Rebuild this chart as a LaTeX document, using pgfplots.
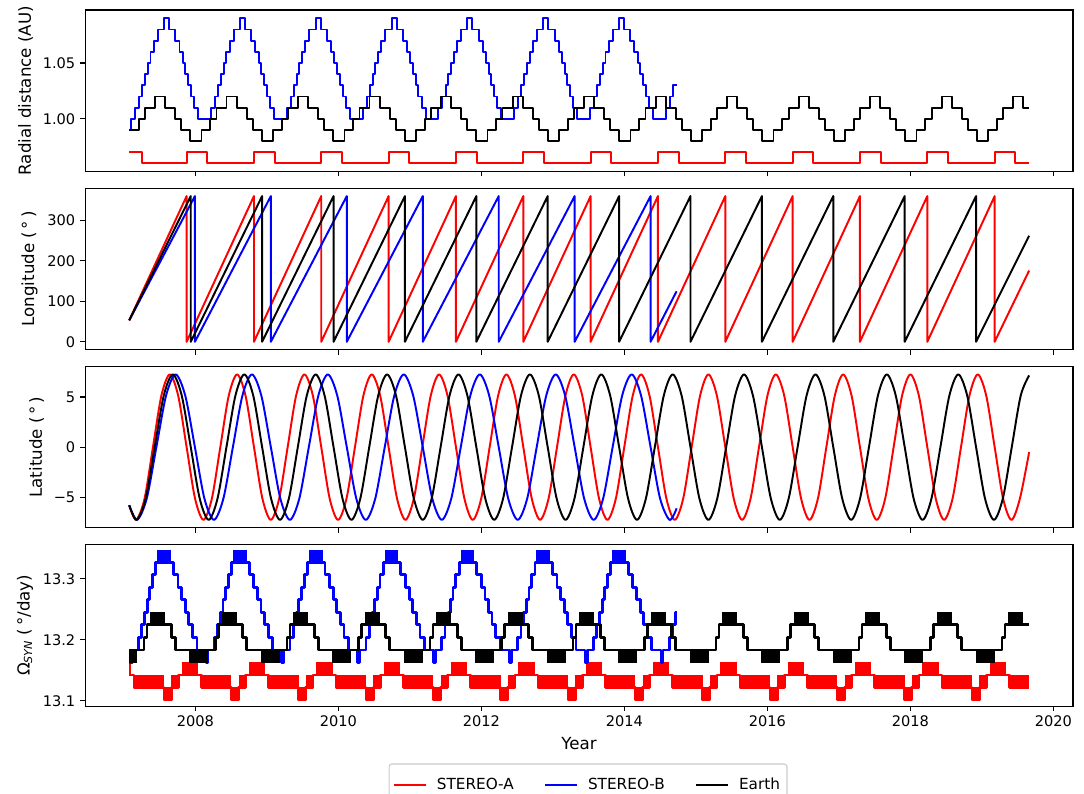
\documentclass[border=0pt]{standalone}
\usepackage{fontspec}
\setmainfont{DejaVu Sans}
\usepackage{pgfplots}
\pgfplotsset{compat=1.18}
\begin{document}
\begin{tikzpicture}
\useasboundingbox (0,0) rectangle (780.48pt,-571.68pt);
\pgfplotsset{
  base/.style={
    scale only axis, width=711.1pt, height=116.28pt,
    xmin=2006.46, xmax=2020.273,
    xtick={2008,2010,2012,2014,2016,2018,2020},
    tick align=outside, tick pos=left,
    major tick length=3.5pt,
    every tick/.append style={black, line width=0.8pt},
    line width=0.8pt,
    tick label style={font=\fontsize{10.5}{12.5}\selectfont},
    label style={font=\fontsize{12}{14}\selectfont},
    anchor=north west,
  },
  ln/.style={line width=1.4pt, mark=none, line join=round},
  lnw/.style={line width=2pt, mark=none, line join=round},
}
% ---------------- Panel 1: radial distance
\begin{axis}[base, at={(61.42pt,-7.2pt)}, ymin=0.9528, ymax=1.0975,
  ytick={1.00,1.05}, yticklabels={1.00,1.05}, xticklabels={},
  ylabel={Radial distance (AU)}]
\addplot[ln, red, const plot] coordinates {(2007.074,0.97)(2007.248,0.96)(2007.877,0.97)(2008.165,0.96)(2008.819,0.97)(2009.107,0.96)(2009.760,0.97)(2010.048,0.96)(2010.702,0.97)(2010.990,0.96)(2011.644,0.97)(2011.932,0.96)(2012.586,0.97)(2012.874,0.96)(2013.527,0.97)(2013.815,0.96)(2014.469,0.97)(2014.757,0.96)(2015.411,0.97)(2015.699,0.96)(2016.353,0.97)(2016.641,0.96)(2017.294,0.97)(2017.582,0.96)(2018.236,0.97)(2018.524,0.96)(2019.178,0.97)(2019.466,0.96)(2019.66,0.96)};
\addplot[ln, blue, const plot] coordinates {(2007.074,0.99)(2007.10,1.00)
(2007.157,1.01)(2007.213,1.02)(2007.257,1.03)(2007.297,1.04)(2007.334,1.05)(2007.372,1.06)(2007.417,1.07)(2007.473,1.08)(2007.562,1.09)(2007.632,1.08)(2007.721,1.07)(2007.777,1.06)(2007.822,1.05)(2007.860,1.04)(2007.897,1.03)(2007.937,1.02)(2007.981,1.01)(2008.037,1.00)
(2008.218,1.01)(2008.274,1.02)(2008.318,1.03)(2008.358,1.04)(2008.395,1.05)(2008.433,1.06)(2008.478,1.07)(2008.534,1.08)(2008.623,1.09)(2008.693,1.08)(2008.782,1.07)(2008.838,1.06)(2008.883,1.05)(2008.921,1.04)(2008.958,1.03)(2008.998,1.02)(2009.042,1.01)(2009.098,1.00)
(2009.278,1.01)(2009.334,1.02)(2009.378,1.03)(2009.418,1.04)(2009.455,1.05)(2009.493,1.06)(2009.538,1.07)(2009.594,1.08)(2009.683,1.09)(2009.753,1.08)(2009.842,1.07)(2009.898,1.06)(2009.943,1.05)(2009.981,1.04)(2010.018,1.03)(2010.058,1.02)(2010.102,1.01)(2010.158,1.00)
(2010.339,1.01)(2010.395,1.02)(2010.439,1.03)(2010.479,1.04)(2010.516,1.05)(2010.554,1.06)(2010.599,1.07)(2010.655,1.08)(2010.744,1.09)(2010.814,1.08)(2010.903,1.07)(2010.959,1.06)(2011.004,1.05)(2011.042,1.04)(2011.079,1.03)(2011.119,1.02)(2011.163,1.01)(2011.219,1.00)
(2011.399,1.01)(2011.455,1.02)(2011.499,1.03)(2011.539,1.04)(2011.576,1.05)(2011.614,1.06)(2011.659,1.07)(2011.715,1.08)(2011.804,1.09)(2011.874,1.08)(2011.963,1.07)(2012.019,1.06)(2012.064,1.05)(2012.102,1.04)(2012.139,1.03)(2012.179,1.02)(2012.223,1.01)(2012.279,1.00)
(2012.460,1.01)(2012.516,1.02)(2012.560,1.03)(2012.600,1.04)(2012.637,1.05)(2012.675,1.06)(2012.720,1.07)(2012.776,1.08)(2012.865,1.09)(2012.935,1.08)(2013.024,1.07)(2013.080,1.06)(2013.125,1.05)(2013.163,1.04)(2013.200,1.03)(2013.240,1.02)(2013.284,1.01)(2013.340,1.00)
(2013.520,1.01)(2013.576,1.02)(2013.620,1.03)(2013.660,1.04)(2013.697,1.05)(2013.735,1.06)(2013.780,1.07)(2013.836,1.08)(2013.925,1.09)(2013.995,1.08)(2014.084,1.07)(2014.140,1.06)(2014.185,1.05)(2014.223,1.04)(2014.260,1.03)(2014.300,1.02)(2014.344,1.01)(2014.400,1.00)
(2014.581,1.01)(2014.637,1.02)(2014.681,1.03)(2014.73,1.03)};
\addplot[ln, black, const plot] coordinates {(2007.074,0.99)(2007.21,1.00)(2007.295,1.01)(2007.435,1.02)(2007.575,1.01)(2007.715,1.00)(2007.80,0.99)(2007.925,0.98)
(2008.085,0.99)(2008.21,1.00)(2008.295,1.01)(2008.435,1.02)(2008.575,1.01)(2008.715,1.00)(2008.80,0.99)(2008.925,0.98)
(2009.085,0.99)(2009.21,1.00)(2009.295,1.01)(2009.435,1.02)(2009.575,1.01)(2009.715,1.00)(2009.80,0.99)(2009.925,0.98)
(2010.085,0.99)(2010.21,1.00)(2010.295,1.01)(2010.435,1.02)(2010.575,1.01)(2010.715,1.00)(2010.80,0.99)(2010.925,0.98)
(2011.085,0.99)(2011.21,1.00)(2011.295,1.01)(2011.435,1.02)(2011.575,1.01)(2011.715,1.00)(2011.80,0.99)(2011.925,0.98)
(2012.085,0.99)(2012.21,1.00)(2012.295,1.01)(2012.435,1.02)(2012.575,1.01)(2012.715,1.00)(2012.80,0.99)(2012.925,0.98)
(2013.085,0.99)(2013.21,1.00)(2013.295,1.01)(2013.435,1.02)(2013.575,1.01)(2013.715,1.00)(2013.80,0.99)(2013.925,0.98)
(2014.085,0.99)(2014.21,1.00)(2014.295,1.01)(2014.435,1.02)(2014.575,1.01)(2014.715,1.00)(2014.80,0.99)(2014.925,0.98)
(2015.085,0.99)(2015.21,1.00)(2015.295,1.01)(2015.435,1.02)(2015.575,1.01)(2015.715,1.00)(2015.80,0.99)(2015.925,0.98)
(2016.085,0.99)(2016.21,1.00)(2016.295,1.01)(2016.435,1.02)(2016.575,1.01)(2016.715,1.00)(2016.80,0.99)(2016.925,0.98)
(2017.085,0.99)(2017.21,1.00)(2017.295,1.01)(2017.435,1.02)(2017.575,1.01)(2017.715,1.00)(2017.80,0.99)(2017.925,0.98)
(2018.085,0.99)(2018.21,1.00)(2018.295,1.01)(2018.435,1.02)(2018.575,1.01)(2018.715,1.00)(2018.80,0.99)(2018.925,0.98)
(2019.085,0.99)(2019.21,1.00)(2019.295,1.01)(2019.435,1.02)(2019.575,1.01)(2019.66,1.01)};
\end{axis}
% ---------------- Panel 2: longitude
\begin{axis}[base, at={(61.42pt,-135.5pt)}, ymin=-19.5, ymax=379.5,
  ytick={0,100,200,300}, yticklabels={0,100,200,300}, xticklabels={},
  ylabel={Longitude (\,°\,)}]
\addplot[ln, red] coordinates {(2007.074,53)(2007.877,360)(2007.877,0)(2008.819,360)(2008.819,0)(2009.760,360)(2009.760,0)(2010.702,360)(2010.702,0)(2011.644,360)(2011.644,0)(2012.586,360)(2012.586,0)(2013.527,360)(2013.527,0)(2014.469,360)(2014.469,0)(2015.411,360)(2015.411,0)(2016.353,360)(2016.353,0)(2017.294,360)(2017.294,0)(2018.236,360)(2018.236,0)(2019.178,360)(2019.178,0)(2019.66,176)};
\addplot[ln, blue] coordinates {(2007.074,53)(2007.993,360)(2007.993,0)(2009.055,360)(2009.055,0)(2010.117,360)(2010.117,0)(2011.180,360)(2011.180,0)(2012.242,360)(2012.242,0)(2013.304,360)(2013.304,0)(2014.366,360)(2014.366,0)(2014.73,125)};
\addplot[ln, black] coordinates {(2007.074,53)(2007.935,360)(2007.935,0)(2008.933,360)(2008.933,0)(2009.932,360)(2009.932,0)(2010.930,360)(2010.930,0)(2011.929,360)(2011.929,0)(2012.927,360)(2012.927,0)(2013.926,360)(2013.926,0)(2014.924,360)(2014.924,0)(2015.923,360)(2015.923,0)(2016.921,360)(2016.921,0)(2017.920,360)(2017.920,0)(2018.918,360)(2018.918,0)(2019.66,262)};
\end{axis}
% ---------------- Panel 3: latitude
\begin{axis}[base, at={(61.42pt,-263.8pt)}, ymin=-8.05, ymax=8.05,
  ytick={-5,0,5}, yticklabels={−5,0,5}, xticklabels={},
  ylabel={Latitude (\,°\,)}]
\addplot[ln, red, smooth] coordinates {(2007.074,-5.79)(2007.171,-7.25)(2007.289,-5.127)(2007.406,0)(2007.524,5.127)(2007.642,7.25)(2007.759,5.127)
(2007.877,0)(2007.995,-5.127)(2008.112,-7.25)(2008.230,-5.127)(2008.348,0)(2008.466,5.127)(2008.583,7.25)(2008.701,5.127)
(2008.819,0)(2008.937,-5.127)(2009.054,-7.25)(2009.172,-5.127)(2009.290,0)(2009.408,5.127)(2009.525,7.25)(2009.643,5.127)
(2009.760,0)(2009.878,-5.127)(2009.995,-7.25)(2010.113,-5.127)(2010.231,0)(2010.349,5.127)(2010.466,7.25)(2010.584,5.127)
(2010.702,0)(2010.820,-5.127)(2010.937,-7.25)(2011.055,-5.127)(2011.173,0)(2011.291,5.127)(2011.408,7.25)(2011.526,5.127)
(2011.644,0)(2011.762,-5.127)(2011.879,-7.25)(2011.997,-5.127)(2012.115,0)(2012.233,5.127)(2012.350,7.25)(2012.468,5.127)
(2012.586,0)(2012.704,-5.127)(2012.821,-7.25)(2012.939,-5.127)(2013.057,0)(2013.175,5.127)(2013.292,7.25)(2013.410,5.127)
(2013.527,0)(2013.645,-5.127)(2013.762,-7.25)(2013.880,-5.127)(2013.998,0)(2014.116,5.127)(2014.233,7.25)(2014.351,5.127)
(2014.469,0)(2014.587,-5.127)(2014.704,-7.25)(2014.822,-5.127)(2014.940,0)(2015.058,5.127)(2015.175,7.25)(2015.293,5.127)
(2015.411,0)(2015.529,-5.127)(2015.646,-7.25)(2015.764,-5.127)(2015.882,0)(2016.000,5.127)(2016.117,7.25)(2016.235,5.127)
(2016.353,0)(2016.471,-5.127)(2016.588,-7.25)(2016.706,-5.127)(2016.824,0)(2016.942,5.127)(2017.059,7.25)(2017.177,5.127)
(2017.294,0)(2017.412,-5.127)(2017.529,-7.25)(2017.647,-5.127)(2017.765,0)(2017.883,5.127)(2018.000,7.25)(2018.118,5.127)
(2018.236,0)(2018.354,-5.127)(2018.471,-7.25)(2018.589,-5.127)(2018.707,0)(2018.825,5.127)(2018.942,7.25)(2019.060,5.127)
(2019.178,0)(2019.296,-5.127)(2019.413,-7.25)(2019.531,-5.127)(2019.66,-0.5)};
\addplot[ln, blue, smooth] coordinates {(2007.074,-5.79)(2007.185,-7.25)(2007.319,-5.127)(2007.454,0)(2007.589,5.127)(2007.723,7.25)(2007.858,5.127)
(2007.993,0)(2008.126,-5.127)(2008.259,-7.25)(2008.391,-5.127)(2008.524,0)(2008.657,5.127)(2008.790,7.25)(2008.922,5.127)
(2009.055,0)(2009.188,-5.127)(2009.321,-7.25)(2009.453,-5.127)(2009.586,0)(2009.719,5.127)(2009.852,7.25)(2009.984,5.127)
(2010.117,0)(2010.250,-5.127)(2010.383,-7.25)(2010.515,-5.127)(2010.648,0)(2010.781,5.127)(2010.914,7.25)(2011.046,5.127)
(2011.180,0)(2011.313,-5.127)(2011.446,-7.25)(2011.578,-5.127)(2011.711,0)(2011.844,5.127)(2011.977,7.25)(2012.109,5.127)
(2012.242,0)(2012.375,-5.127)(2012.508,-7.25)(2012.640,-5.127)(2012.773,0)(2012.906,5.127)(2013.039,7.25)(2013.171,5.127)
(2013.304,0)(2013.437,-5.127)(2013.570,-7.25)(2013.702,-5.127)(2013.835,0)(2013.968,5.127)(2014.101,7.25)(2014.233,5.127)
(2014.366,0)(2014.499,-5.127)(2014.632,-7.25)(2014.73,-6.1)};
\addplot[ln, black, smooth] coordinates {(2007.074,-5.79)(2007.178,-7.25)(2007.304,-5.127)(2007.430,0)(2007.557,5.127)(2007.683,7.25)(2007.809,5.127)
(2007.935,0)(2008.060,-5.127)(2008.185,-7.25)(2008.309,-5.127)(2008.434,0)(2008.559,5.127)(2008.684,7.25)(2008.809,5.127)
(2008.933,0)(2009.058,-5.127)(2009.183,-7.25)(2009.307,-5.127)(2009.432,0)(2009.557,5.127)(2009.682,7.25)(2009.807,5.127)
(2009.932,0)(2010.057,-5.127)(2010.182,-7.25)(2010.306,-5.127)(2010.431,0)(2010.556,5.127)(2010.681,7.25)(2010.806,5.127)
(2010.930,0)(2011.055,-5.127)(2011.180,-7.25)(2011.304,-5.127)(2011.429,0)(2011.554,5.127)(2011.679,7.25)(2011.804,5.127)
(2011.929,0)(2012.054,-5.127)(2012.179,-7.25)(2012.303,-5.127)(2012.428,0)(2012.553,5.127)(2012.678,7.25)(2012.803,5.127)
(2012.927,0)(2013.052,-5.127)(2013.177,-7.25)(2013.301,-5.127)(2013.426,0)(2013.551,5.127)(2013.676,7.25)(2013.801,5.127)
(2013.926,0)(2014.051,-5.127)(2014.176,-7.25)(2014.300,-5.127)(2014.425,0)(2014.550,5.127)(2014.675,7.25)(2014.800,5.127)
(2014.924,0)(2015.049,-5.127)(2015.174,-7.25)(2015.298,-5.127)(2015.423,0)(2015.548,5.127)(2015.673,7.25)(2015.798,5.127)
(2015.923,0)(2016.048,-5.127)(2016.173,-7.25)(2016.297,-5.127)(2016.422,0)(2016.547,5.127)(2016.672,7.25)(2016.797,5.127)
(2016.921,0)(2017.046,-5.127)(2017.171,-7.25)(2017.295,-5.127)(2017.420,0)(2017.545,5.127)(2017.670,7.25)(2017.795,5.127)
(2017.920,0)(2018.045,-5.127)(2018.170,-7.25)(2018.294,-5.127)(2018.419,0)(2018.544,5.127)(2018.669,7.25)(2018.794,5.127)
(2018.918,0)(2019.043,-5.127)(2019.168,-7.25)(2019.292,-5.127)(2019.417,0)(2019.542,5.127)(2019.66,7.15)};
\end{axis}
% ---------------- Panel 4: synodic rotation rate
\begin{axis}[base, at={(61.42pt,-392.1pt)}, ymin=13.0915, ymax=13.356,
  ytick={13.1,13.2,13.3}, yticklabels={13.1,13.2,13.3},
  xticklabels={2008,2010,2012,2014,2016,2018,2020},
  xlabel={Year},
  ylabel={Ω\textsubscript{\textit{SYN}} (\,°/day)},
  unbounded coords=jump,
  legend style={at={(0.509,-0.355)}, anchor=north, legend columns=3,
    draw=black!20, rounded corners=2pt, font=\fontsize{11}{13}\selectfont,
    inner xsep=3pt, inner ysep=8pt,
    /tikz/every odd column/.append style={column sep=5pt},
    /tikz/every even column/.append style={column sep=20pt}},
  legend image code/.code={\draw[#1] (0pt,0pt) -- (23pt,0pt);}]
\addlegendimage{red, line width=1.4pt}\addlegendentry{STEREO-A}
\addlegendimage{blue, line width=1.4pt}\addlegendentry{STEREO-B}
\addlegendimage{black, line width=1.4pt}\addlegendentry{Earth}
% red
\addplot[lnw, red, const plot, forget plot] coordinates {(2007.074,13.1425)(2007.141,13.122)(2007.561,13.1015)(2007.661,13.122)
(2007.761,13.1425)(2008.083,13.122)(2008.503,13.1015)(2008.603,13.122)
(2008.703,13.1425)(2009.025,13.122)(2009.445,13.1015)(2009.545,13.122)
(2009.644,13.1425)(2009.966,13.122)(2010.386,13.1015)(2010.486,13.122)
(2010.586,13.1425)(2010.908,13.122)(2011.328,13.1015)(2011.428,13.122)
(2011.528,13.1425)(2011.850,13.122)(2012.270,13.1015)(2012.370,13.122)
(2012.470,13.1425)(2012.792,13.122)(2013.212,13.1015)(2013.312,13.122)
(2013.411,13.1425)(2013.733,13.122)(2014.153,13.1015)(2014.253,13.122)
(2014.353,13.1425)(2014.675,13.122)(2015.095,13.1015)(2015.195,13.122)
(2015.295,13.1425)(2015.617,13.122)(2016.037,13.1015)(2016.137,13.122)
(2016.237,13.1425)(2016.559,13.122)(2016.979,13.1015)(2017.079,13.122)
(2017.178,13.1425)(2017.500,13.122)(2017.920,13.1015)(2018.020,13.122)
(2018.120,13.1425)(2018.442,13.122)(2018.862,13.1015)(2018.962,13.122)
(2019.062,13.1425)(2019.384,13.122)(2019.66,13.122)};
\addplot[red, line width=9.6pt, forget plot] coordinates {(2007.074,13.1528)(2007.096,13.1528)(2007.1,nan)(2007.808,13.1528)(2008.038,13.1528)(2008.04,nan)(2008.750,13.1528)(2008.980,13.1528)(2008.99,nan)(2009.691,13.1528)(2009.921,13.1528)(2009.93,nan)(2010.633,13.1528)(2010.863,13.1528)(2010.87,nan)(2011.575,13.1528)(2011.805,13.1528)(2011.81,nan)(2012.517,13.1528)(2012.747,13.1528)(2012.75,nan)(2013.458,13.1528)(2013.688,13.1528)(2013.69,nan)(2014.400,13.1528)(2014.630,13.1528)(2014.64,nan)(2015.342,13.1528)(2015.572,13.1528)(2015.58,nan)(2016.284,13.1528)(2016.514,13.1528)(2016.52,nan)(2017.225,13.1528)(2017.455,13.1528)(2017.46,nan)(2018.167,13.1528)(2018.397,13.1528)(2018.40,nan)(2019.109,13.1528)(2019.339,13.1528)};
\addplot[red, line width=9.6pt, forget plot] coordinates {(2007.141,13.1323)(2007.561,13.1323)(2007.57,nan)(2007.661,13.1323)(2007.761,13.1323)(2007.77,nan)
(2008.083,13.1323)(2008.503,13.1323)(2008.51,nan)(2008.603,13.1323)(2008.703,13.1323)(2008.71,nan)
(2009.025,13.1323)(2009.445,13.1323)(2009.45,nan)(2009.545,13.1323)(2009.644,13.1323)(2009.65,nan)
(2009.966,13.1323)(2010.386,13.1323)(2010.39,nan)(2010.486,13.1323)(2010.586,13.1323)(2010.59,nan)
(2010.908,13.1323)(2011.328,13.1323)(2011.33,nan)(2011.428,13.1323)(2011.528,13.1323)(2011.53,nan)
(2011.850,13.1323)(2012.270,13.1323)(2012.28,nan)(2012.370,13.1323)(2012.470,13.1323)(2012.48,nan)
(2012.792,13.1323)(2013.212,13.1323)(2013.22,nan)(2013.312,13.1323)(2013.411,13.1323)(2013.42,nan)
(2013.733,13.1323)(2014.153,13.1323)(2014.16,nan)(2014.253,13.1323)(2014.353,13.1323)(2014.36,nan)
(2014.675,13.1323)(2015.095,13.1323)(2015.10,nan)(2015.195,13.1323)(2015.295,13.1323)(2015.30,nan)
(2015.617,13.1323)(2016.037,13.1323)(2016.04,nan)(2016.137,13.1323)(2016.237,13.1323)(2016.24,nan)
(2016.559,13.1323)(2016.979,13.1323)(2016.98,nan)(2017.079,13.1323)(2017.178,13.1323)(2017.18,nan)
(2017.500,13.1323)(2017.920,13.1323)(2017.93,nan)(2018.020,13.1323)(2018.120,13.1323)(2018.13,nan)
(2018.442,13.1323)(2018.862,13.1323)(2018.87,nan)(2018.962,13.1323)(2019.062,13.1323)(2019.07,nan)
(2019.384,13.1323)(2019.66,13.1323)};
\addplot[red, line width=9.6pt, forget plot] coordinates {(2007.561,13.1118)(2007.661,13.1118)(2007.67,nan)(2008.503,13.1118)(2008.603,13.1118)(2008.61,nan)(2009.445,13.1118)(2009.545,13.1118)(2009.55,nan)(2010.386,13.1118)(2010.486,13.1118)(2010.49,nan)(2011.328,13.1118)(2011.428,13.1118)(2011.43,nan)(2012.270,13.1118)(2012.370,13.1118)(2012.38,nan)(2013.212,13.1118)(2013.312,13.1118)(2013.32,nan)(2014.153,13.1118)(2014.253,13.1118)(2014.26,nan)(2015.095,13.1118)(2015.195,13.1118)(2015.20,nan)(2016.037,13.1118)(2016.137,13.1118)(2016.14,nan)(2016.979,13.1118)(2017.079,13.1118)(2017.08,nan)(2017.920,13.1118)(2018.020,13.1118)(2018.03,nan)(2018.862,13.1118)(2018.962,13.1118)};
% blue
\addplot[lnw, blue, const plot, forget plot] coordinates {(2007.074,13.163)(2007.1165,13.1835)
(2007.203,13.204)(2007.250,13.2245)(2007.289,13.245)(2007.325,13.2655)(2007.361,13.286)(2007.400,13.3065)(2007.447,13.327)(2007.691,13.3065)(2007.755,13.286)(2007.807,13.2655)(2007.857,13.245)(2007.906,13.2245)(2007.958,13.204)(2008.021,13.1835)(2008.147,13.163)(2008.177,13.1835)
(2008.264,13.204)(2008.311,13.2245)(2008.350,13.245)(2008.386,13.2655)(2008.422,13.286)(2008.461,13.3065)(2008.508,13.327)(2008.752,13.3065)(2008.816,13.286)(2008.868,13.2655)(2008.918,13.245)(2008.967,13.2245)(2009.019,13.204)(2009.082,13.1835)(2009.208,13.163)(2009.238,13.1835)
(2009.324,13.204)(2009.371,13.2245)(2009.410,13.245)(2009.446,13.2655)(2009.482,13.286)(2009.521,13.3065)(2009.568,13.327)(2009.812,13.3065)(2009.876,13.286)(2009.928,13.2655)(2009.978,13.245)(2010.027,13.2245)(2010.079,13.204)(2010.142,13.1835)(2010.268,13.163)(2010.298,13.1835)
(2010.385,13.204)(2010.432,13.2245)(2010.471,13.245)(2010.507,13.2655)(2010.543,13.286)(2010.582,13.3065)(2010.629,13.327)(2010.873,13.3065)(2010.937,13.286)(2010.989,13.2655)(2011.039,13.245)(2011.088,13.2245)(2011.140,13.204)(2011.203,13.1835)(2011.329,13.163)(2011.359,13.1835)
(2011.445,13.204)(2011.492,13.2245)(2011.531,13.245)(2011.567,13.2655)(2011.603,13.286)(2011.642,13.3065)(2011.689,13.327)(2011.933,13.3065)(2011.997,13.286)(2012.049,13.2655)(2012.099,13.245)(2012.148,13.2245)(2012.200,13.204)(2012.263,13.1835)(2012.389,13.163)(2012.419,13.1835)
(2012.506,13.204)(2012.553,13.2245)(2012.592,13.245)(2012.628,13.2655)(2012.664,13.286)(2012.703,13.3065)(2012.750,13.327)(2012.994,13.3065)(2013.058,13.286)(2013.110,13.2655)(2013.160,13.245)(2013.209,13.2245)(2013.261,13.204)(2013.324,13.1835)(2013.450,13.163)(2013.480,13.1835)
(2013.566,13.204)(2013.613,13.2245)(2013.652,13.245)(2013.688,13.2655)(2013.724,13.286)(2013.763,13.3065)(2013.810,13.327)(2014.054,13.3065)(2014.118,13.286)(2014.170,13.2655)(2014.220,13.245)(2014.269,13.2245)(2014.321,13.204)(2014.384,13.1835)(2014.510,13.163)(2014.540,13.1835)
(2014.627,13.204)(2014.674,13.2245)(2014.713,13.245)(2014.73,13.245)};
\addplot[blue, line width=9.6pt, forget plot] coordinates {(2007.467,13.337)(2007.657,13.337)(2007.66,nan)(2008.528,13.337)(2008.718,13.337)(2008.72,nan)(2009.588,13.337)(2009.778,13.337)(2009.78,nan)(2010.649,13.337)(2010.839,13.337)(2010.84,nan)(2011.709,13.337)(2011.899,13.337)(2011.90,nan)(2012.770,13.337)(2012.960,13.337)(2012.97,nan)(2013.830,13.337)(2014.020,13.337)};
% black
\addplot[lnw, black, const plot, forget plot] coordinates {(2007.074,13.1835)
(2007.282,13.204)(2007.322,13.2245)(2007.662,13.204)(2007.717,13.1835)
(2008.282,13.204)(2008.322,13.2245)(2008.662,13.204)(2008.717,13.1835)
(2009.282,13.204)(2009.322,13.2245)(2009.662,13.204)(2009.717,13.1835)
(2010.282,13.204)(2010.322,13.2245)(2010.662,13.204)(2010.717,13.1835)
(2011.282,13.204)(2011.322,13.2245)(2011.662,13.204)(2011.717,13.1835)
(2012.282,13.204)(2012.322,13.2245)(2012.662,13.204)(2012.717,13.1835)
(2013.282,13.204)(2013.322,13.2245)(2013.662,13.204)(2013.717,13.1835)
(2014.282,13.204)(2014.322,13.2245)(2014.662,13.204)(2014.717,13.1835)
(2015.282,13.204)(2015.322,13.2245)(2015.662,13.204)(2015.717,13.1835)
(2016.282,13.204)(2016.322,13.2245)(2016.662,13.204)(2016.717,13.1835)
(2017.282,13.204)(2017.322,13.2245)(2017.662,13.204)(2017.717,13.1835)
(2018.282,13.204)(2018.322,13.2245)(2018.662,13.204)(2018.717,13.1835)
(2019.282,13.204)(2019.322,13.2245)(2019.66,13.2245)};
\addplot[black, line width=9.6pt, forget plot] coordinates {(2007.367,13.2348)(2007.577,13.2348)(2007.58,nan)(2008.367,13.2348)(2008.577,13.2348)(2008.58,nan)(2009.367,13.2348)(2009.577,13.2348)(2009.58,nan)(2010.367,13.2348)(2010.577,13.2348)(2010.58,nan)(2011.367,13.2348)(2011.577,13.2348)(2011.58,nan)(2012.367,13.2348)(2012.577,13.2348)(2012.58,nan)(2013.367,13.2348)(2013.577,13.2348)(2013.58,nan)(2014.367,13.2348)(2014.577,13.2348)(2014.58,nan)(2015.367,13.2348)(2015.577,13.2348)(2015.58,nan)(2016.367,13.2348)(2016.577,13.2348)(2016.58,nan)(2017.367,13.2348)(2017.577,13.2348)(2017.58,nan)(2018.367,13.2348)(2018.577,13.2348)(2018.58,nan)(2019.367,13.2348)(2019.577,13.2348)};
\addplot[black, line width=9.6pt, forget plot] coordinates {(2007.074,13.1733)(2007.182,13.1733)(2007.19,nan)(2007.912,13.1733)(2008.182,13.1733)(2008.19,nan)(2008.912,13.1733)(2009.182,13.1733)(2009.19,nan)(2009.912,13.1733)(2010.182,13.1733)(2010.19,nan)(2010.912,13.1733)(2011.182,13.1733)(2011.19,nan)(2011.912,13.1733)(2012.182,13.1733)(2012.19,nan)(2012.912,13.1733)(2013.182,13.1733)(2013.19,nan)(2013.912,13.1733)(2014.182,13.1733)(2014.19,nan)(2014.912,13.1733)(2015.182,13.1733)(2015.19,nan)(2015.912,13.1733)(2016.182,13.1733)(2016.19,nan)(2016.912,13.1733)(2017.182,13.1733)(2017.19,nan)(2017.912,13.1733)(2018.182,13.1733)(2018.19,nan)(2018.912,13.1733)(2019.182,13.1733)};
\end{axis}
\end{tikzpicture}
\end{document}
